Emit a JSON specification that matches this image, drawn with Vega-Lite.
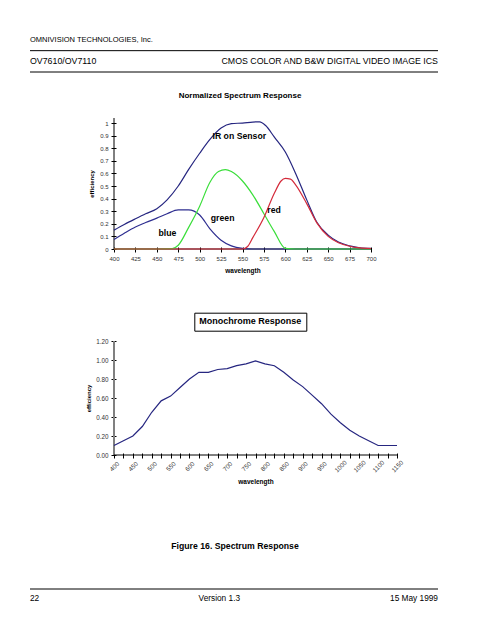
{
  "$schema": "https://vega.github.io/schema/vega-lite/v6.json",
  "background": "white",
  "padding": {"left": 29, "top": 36, "right": 20, "bottom": 20},
  "spacing": 0,
  "bounds": "flush",
  "config": {
    "font": "Liberation Sans",
    "view": {"stroke": null},
    "axis": {"labelFont": "Liberation Sans", "titleFont": "Liberation Sans", "grid": false},
    "title": {"font": "Liberation Sans"},
    "text": {"font": "Liberation Sans"},
    "legend": {"labelFont": "Liberation Sans"}
  },
  "resolve": {"scale": {"color": "independent"}, "legend": {"color": "independent"}},
  "vconcat": [
    {
      "width": 408,
      "height": 32,
      "data": {"values": [
        {"row": "company", "side": "left", "kind": "text", "label": "OMNIVISION TECHNOLOGIES, Inc.", "size": "small"},
        {"row": "line1", "kind": "line"},
        {"row": "product", "side": "left", "kind": "text", "label": "OV7610/OV7110", "size": "big"},
        {"row": "product", "side": "right", "kind": "text", "label": "CMOS COLOR AND B&W DIGITAL VIDEO IMAGE ICS", "size": "big"},
        {"row": "line2", "kind": "line"}
      ]},
      "encoding": {
        "y": {"field": "row", "type": "nominal", "scale": {"type": "point", "domain": ["company", "line1", "product", "line2"], "padding": 0}, "axis": null}
      },
      "layer": [
        {"transform": [{"filter": "datum.kind == 'line'"}], "mark": {"type": "rule", "color": "black", "strokeWidth": 1}},
        {"transform": [{"filter": "datum.side == 'left' && datum.size == 'small'"}],
         "mark": {"type": "text", "align": "left", "baseline": "middle", "fontSize": 7.5, "color": "black"},
         "encoding": {"x": {"field": "side", "type": "nominal", "scale": {"type": "point", "domain": ["left", "right"], "padding": 0}, "axis": null}, "text": {"field": "label"}}},
        {"transform": [{"filter": "datum.side == 'left' && datum.size == 'big'"}],
         "mark": {"type": "text", "align": "left", "baseline": "middle", "fontSize": 8.8, "color": "black"},
         "encoding": {"x": {"field": "side", "type": "nominal", "scale": {"type": "point", "domain": ["left", "right"], "padding": 0}, "axis": null}, "text": {"field": "label"}}},
        {"transform": [{"filter": "datum.side == 'right'"}],
         "mark": {"type": "text", "align": "right", "baseline": "middle", "fontSize": 8.8, "color": "black"},
         "encoding": {"x": {"field": "side", "type": "nominal", "scale": {"type": "point", "domain": ["left", "right"], "padding": 0}, "axis": null}, "text": {"field": "label"}}}
      ]
    },
    {"width": 408, "height": 46, "data": {"values": []}, "mark": "point"},
    {
      "width": 408,
      "height": 131,
      "title": {"text": "Normalized Spectrum Response", "fontSize": 8, "fontWeight": "bold", "anchor": "middle", "frame": "group", "dx": 6, "offset": 18, "color": "black"},
      "layer": [
        {
          "data": {"values": [{"a": 1}]},
          "mark": {"type": "rule", "color": "black", "strokeWidth": 1},
          "encoding": {
            "x": {"datum": 400, "type": "quantitative", "title": "wavelength",
                  "scale": {"domain": [400, 700], "range": [84, 341], "zero": false, "nice": false},
                  "axis": {"values": [400, 425, 450, 475, 500, 525, 550, 575, 600, 625, 650, 675, 700], "format": "d", "domain": false, "offset": -2, "tickSize": 5, "tickColor": "black", "labelFontSize": 6, "labelColor": "#333333", "labelPadding": 3, "labelFlush": false, "labelOverlap": false, "titleFontSize": 6.5, "titleFontWeight": "bold", "titleColor": "black", "titlePadding": 6}},
            "y": {"datum": 0, "type": "quantitative", "title": "efficiency",
                  "scale": {"domain": [0, 1.04], "nice": false, "zero": false},
                  "axis": {"values": [0, 0.1, 0.2, 0.3, 0.4, 0.5, 0.6, 0.7, 0.8, 0.9, 1], "format": "~g", "domain": false, "offset": -86, "tickSize": 5, "tickColor": "black", "labelFontSize": 6, "labelColor": "#333333", "labelPadding": 3, "labelOverlap": false, "titleFontSize": 6, "titleFontWeight": "bold", "titleColor": "black", "titlePadding": 5}},
            "y2": {"datum": 1.04}
          }
        },
        {
          "data": {"values": [{"a": 1}]},
          "mark": {"type": "rule", "color": "black", "strokeWidth": 1},
          "encoding": {
            "x": {"datum": 400, "type": "quantitative", "title": "wavelength",
                  "scale": {"domain": [400, 700], "range": [84, 341], "zero": false, "nice": false},
                  "axis": {"values": [400, 425, 450, 475, 500, 525, 550, 575, 600, 625, 650, 675, 700], "format": "d", "domain": false, "offset": -2, "tickSize": 5, "tickColor": "black", "labelFontSize": 6, "labelColor": "#333333", "labelPadding": 3, "labelFlush": false, "labelOverlap": false, "titleFontSize": 6.5, "titleFontWeight": "bold", "titleColor": "black", "titlePadding": 6}},
            "x2": {"datum": 700},
            "y": {"datum": 0, "type": "quantitative", "title": "efficiency",
                  "scale": {"domain": [0, 1.04], "nice": false, "zero": false},
                  "axis": {"values": [0, 0.1, 0.2, 0.3, 0.4, 0.5, 0.6, 0.7, 0.8, 0.9, 1], "format": "~g", "domain": false, "offset": -86, "tickSize": 5, "tickColor": "black", "labelFontSize": 6, "labelColor": "#333333", "labelPadding": 3, "labelOverlap": false, "titleFontSize": 6, "titleFontWeight": "bold", "titleColor": "black", "titlePadding": 5}}
          }
        },
        {
          "data": {"values": [
            {"series": "IR on Sensor", "wl": 400, "eff": 0.15},
            {"series": "IR on Sensor", "wl": 412, "eff": 0.195},
            {"series": "IR on Sensor", "wl": 425, "eff": 0.24},
            {"series": "IR on Sensor", "wl": 437, "eff": 0.28},
            {"series": "IR on Sensor", "wl": 450, "eff": 0.32},
            {"series": "IR on Sensor", "wl": 462, "eff": 0.39},
            {"series": "IR on Sensor", "wl": 475, "eff": 0.5},
            {"series": "IR on Sensor", "wl": 487, "eff": 0.63},
            {"series": "IR on Sensor", "wl": 500, "eff": 0.76},
            {"series": "IR on Sensor", "wl": 512, "eff": 0.87},
            {"series": "IR on Sensor", "wl": 525, "eff": 0.96},
            {"series": "IR on Sensor", "wl": 537, "eff": 0.995},
            {"series": "IR on Sensor", "wl": 550, "eff": 1.0},
            {"series": "IR on Sensor", "wl": 562, "eff": 1.008},
            {"series": "IR on Sensor", "wl": 570, "eff": 1.01},
            {"series": "IR on Sensor", "wl": 577, "eff": 0.98},
            {"series": "IR on Sensor", "wl": 587, "eff": 0.89},
            {"series": "IR on Sensor", "wl": 600, "eff": 0.77},
            {"series": "IR on Sensor", "wl": 612, "eff": 0.6},
            {"series": "IR on Sensor", "wl": 625, "eff": 0.39},
            {"series": "IR on Sensor", "wl": 637, "eff": 0.21},
            {"series": "IR on Sensor", "wl": 650, "eff": 0.11},
            {"series": "IR on Sensor", "wl": 662, "eff": 0.055},
            {"series": "IR on Sensor", "wl": 675, "eff": 0.025},
            {"series": "IR on Sensor", "wl": 687, "eff": 0.01},
            {"series": "IR on Sensor", "wl": 700, "eff": 0.005},
            {"series": "blue", "wl": 400, "eff": 0.075},
            {"series": "blue", "wl": 412, "eff": 0.125},
            {"series": "blue", "wl": 425, "eff": 0.175},
            {"series": "blue", "wl": 437, "eff": 0.21},
            {"series": "blue", "wl": 450, "eff": 0.245},
            {"series": "blue", "wl": 462, "eff": 0.28},
            {"series": "blue", "wl": 475, "eff": 0.31},
            {"series": "blue", "wl": 487, "eff": 0.31},
            {"series": "blue", "wl": 500, "eff": 0.27},
            {"series": "blue", "wl": 512, "eff": 0.16},
            {"series": "blue", "wl": 525, "eff": 0.07},
            {"series": "blue", "wl": 537, "eff": 0.025},
            {"series": "blue", "wl": 550, "eff": 0.005},
            {"series": "blue", "wl": 562, "eff": 0},
            {"series": "blue", "wl": 600, "eff": 0},
            {"series": "blue", "wl": 650, "eff": 0},
            {"series": "blue", "wl": 700, "eff": 0},
            {"series": "green", "wl": 400, "eff": 0},
            {"series": "green", "wl": 450, "eff": 0},
            {"series": "green", "wl": 468, "eff": 0.003},
            {"series": "green", "wl": 475, "eff": 0.03},
            {"series": "green", "wl": 487, "eff": 0.17},
            {"series": "green", "wl": 500, "eff": 0.34},
            {"series": "green", "wl": 512, "eff": 0.53},
            {"series": "green", "wl": 522, "eff": 0.615},
            {"series": "green", "wl": 530, "eff": 0.63},
            {"series": "green", "wl": 537, "eff": 0.615},
            {"series": "green", "wl": 550, "eff": 0.54},
            {"series": "green", "wl": 562, "eff": 0.43},
            {"series": "green", "wl": 575, "eff": 0.28},
            {"series": "green", "wl": 587, "eff": 0.14},
            {"series": "green", "wl": 600, "eff": 0.005},
            {"series": "green", "wl": 612, "eff": 0},
            {"series": "green", "wl": 650, "eff": 0},
            {"series": "green", "wl": 700, "eff": 0},
            {"series": "red", "wl": 400, "eff": 0},
            {"series": "red", "wl": 500, "eff": 0},
            {"series": "red", "wl": 550, "eff": 0},
            {"series": "red", "wl": 556, "eff": 0.02},
            {"series": "red", "wl": 562, "eff": 0.09},
            {"series": "red", "wl": 575, "eff": 0.25},
            {"series": "red", "wl": 587, "eff": 0.44},
            {"series": "red", "wl": 595, "eff": 0.54},
            {"series": "red", "wl": 600, "eff": 0.56},
            {"series": "red", "wl": 606, "eff": 0.555},
            {"series": "red", "wl": 612, "eff": 0.51},
            {"series": "red", "wl": 625, "eff": 0.36},
            {"series": "red", "wl": 637, "eff": 0.205},
            {"series": "red", "wl": 650, "eff": 0.1},
            {"series": "red", "wl": 662, "eff": 0.05},
            {"series": "red", "wl": 675, "eff": 0.022},
            {"series": "red", "wl": 687, "eff": 0.009},
            {"series": "red", "wl": 700, "eff": 0.004}
          ]},
          "mark": {"type": "line", "strokeWidth": 1.2, "interpolate": "monotone"},
          "encoding": {
            "x": {"field": "wl", "type": "quantitative", "title": "wavelength",
                  "scale": {"domain": [400, 700], "range": [84, 341], "zero": false, "nice": false},
                  "axis": {"values": [400, 425, 450, 475, 500, 525, 550, 575, 600, 625, 650, 675, 700], "format": "d", "domain": false, "offset": -2, "tickSize": 5, "tickColor": "black", "labelFontSize": 6, "labelColor": "#333333", "labelPadding": 3, "labelFlush": false, "labelOverlap": false, "titleFontSize": 6.5, "titleFontWeight": "bold", "titleColor": "black", "titlePadding": 6}},
            "y": {"field": "eff", "type": "quantitative", "title": "efficiency",
                  "scale": {"domain": [0, 1.04], "nice": false, "zero": false},
                  "axis": {"values": [0, 0.1, 0.2, 0.3, 0.4, 0.5, 0.6, 0.7, 0.8, 0.9, 1], "format": "~g", "domain": false, "offset": -86, "tickSize": 5, "tickColor": "black", "labelFontSize": 6, "labelColor": "#333333", "labelPadding": 3, "labelOverlap": false, "titleFontSize": 6, "titleFontWeight": "bold", "titleColor": "black", "titlePadding": 5}},
            "color": {"field": "series", "type": "nominal", "scale": {"domain": ["IR on Sensor", "blue", "green", "red"], "range": ["#262680", "#2e2e90", "#3ade3a", "#d42a3a"]}, "legend": null}
          }
        },
        {
          "data": {"values": [
            {"label": "IR on Sensor", "wl": 515, "eff": 0.897},
            {"label": "green", "wl": 513, "eff": 0.244},
            {"label": "red", "wl": 579, "eff": 0.31},
            {"label": "blue", "wl": 452, "eff": 0.13}
          ]},
          "mark": {"type": "text", "align": "left", "baseline": "middle", "fontSize": 8.7, "fontWeight": "bold", "color": "black"},
          "encoding": {
            "x": {"field": "wl", "type": "quantitative", "title": "wavelength",
                  "scale": {"domain": [400, 700], "range": [84, 341], "zero": false, "nice": false},
                  "axis": {"values": [400, 425, 450, 475, 500, 525, 550, 575, 600, 625, 650, 675, 700], "format": "d", "domain": false, "offset": -2, "tickSize": 5, "tickColor": "black", "labelFontSize": 6, "labelColor": "#333333", "labelPadding": 3, "labelFlush": false, "labelOverlap": false, "titleFontSize": 6.5, "titleFontWeight": "bold", "titleColor": "black", "titlePadding": 6}},
            "y": {"field": "eff", "type": "quantitative", "title": "efficiency",
                  "scale": {"domain": [0, 1.04], "nice": false, "zero": false},
                  "axis": {"values": [0, 0.1, 0.2, 0.3, 0.4, 0.5, 0.6, 0.7, 0.8, 0.9, 1], "format": "~g", "domain": false, "offset": -86, "tickSize": 5, "tickColor": "black", "labelFontSize": 6, "labelColor": "#333333", "labelPadding": 3, "labelOverlap": false, "titleFontSize": 6, "titleFontWeight": "bold", "titleColor": "black", "titlePadding": 5}},
            "text": {"field": "label"}
          }
        }
      ]
    },
    {"width": 408, "height": 92, "data": {"values": []}, "mark": "point"},
    {
      "width": 408,
      "height": 114,
      "layer": [
        {
          "data": {"values": [{"a": 1}]},
          "mark": {"type": "rule", "color": "#808080", "strokeWidth": 2},
          "encoding": {
            "x": {"datum": 400, "type": "quantitative", "title": "wavelength",
                  "scale": {"domain": [400, 1150], "range": [84, 367], "zero": false, "nice": false},
                  "axis": {"values": [400, 425, 450, 475, 500, 525, 550, 575, 600, 625, 650, 675, 700, 725, 750, 775, 800, 825, 850, 875, 900, 925, 950, 975, 1000, 1025, 1050, 1075, 1100, 1125, 1150], "format": "d", "labelExpr": "datum.value % 50 === 0 ? datum.label : ''", "labelAngle": -45, "labelAlign": "center", "labelBaseline": "middle", "domain": false, "offset": -2, "tickSize": 5, "tickColor": "black", "labelFontSize": 6.3, "labelColor": "#333333", "labelPadding": 8, "labelFlush": false, "labelOverlap": false, "titleFontSize": 6.5, "titleFontWeight": "bold", "titleColor": "black", "titlePadding": 5}},
            "y": {"datum": 0, "type": "quantitative", "title": "efficiency",
                  "scale": {"domain": [0, 1.2], "nice": false, "zero": false},
                  "axis": {"values": [0, 0.2, 0.4, 0.6, 0.8, 1.0, 1.2], "format": ".2f", "domain": false, "offset": -86, "tickSize": 5, "tickColor": "black", "labelFontSize": 6.3, "labelColor": "#333333", "labelPadding": 3, "labelOverlap": false, "titleFontSize": 6, "titleFontWeight": "bold", "titleColor": "black", "titlePadding": 4}},
            "y2": {"datum": 1.2}
          }
        },
        {
          "data": {"values": [{"a": 1}]},
          "mark": {"type": "rule", "color": "black", "strokeWidth": 1},
          "encoding": {
            "x": {"datum": 400, "type": "quantitative", "title": "wavelength",
                  "scale": {"domain": [400, 1150], "range": [84, 367], "zero": false, "nice": false},
                  "axis": {"values": [400, 425, 450, 475, 500, 525, 550, 575, 600, 625, 650, 675, 700, 725, 750, 775, 800, 825, 850, 875, 900, 925, 950, 975, 1000, 1025, 1050, 1075, 1100, 1125, 1150], "format": "d", "labelExpr": "datum.value % 50 === 0 ? datum.label : ''", "labelAngle": -45, "labelAlign": "center", "labelBaseline": "middle", "domain": false, "offset": -2, "tickSize": 5, "tickColor": "black", "labelFontSize": 6.3, "labelColor": "#333333", "labelPadding": 8, "labelFlush": false, "labelOverlap": false, "titleFontSize": 6.5, "titleFontWeight": "bold", "titleColor": "black", "titlePadding": 5}},
            "x2": {"datum": 1150},
            "y": {"datum": 0, "type": "quantitative", "title": "efficiency",
                  "scale": {"domain": [0, 1.2], "nice": false, "zero": false},
                  "axis": {"values": [0, 0.2, 0.4, 0.6, 0.8, 1.0, 1.2], "format": ".2f", "domain": false, "offset": -86, "tickSize": 5, "tickColor": "black", "labelFontSize": 6.3, "labelColor": "#333333", "labelPadding": 3, "labelOverlap": false, "titleFontSize": 6, "titleFontWeight": "bold", "titleColor": "black", "titlePadding": 4}}
          }
        },
        {
          "data": {"values": [
            {"series": "Monochrome Response", "wl": 400, "eff": 0.10},
            {"series": "Monochrome Response", "wl": 425, "eff": 0.15},
            {"series": "Monochrome Response", "wl": 450, "eff": 0.20},
            {"series": "Monochrome Response", "wl": 475, "eff": 0.30},
            {"series": "Monochrome Response", "wl": 500, "eff": 0.45},
            {"series": "Monochrome Response", "wl": 525, "eff": 0.57},
            {"series": "Monochrome Response", "wl": 550, "eff": 0.62},
            {"series": "Monochrome Response", "wl": 575, "eff": 0.71},
            {"series": "Monochrome Response", "wl": 600, "eff": 0.80},
            {"series": "Monochrome Response", "wl": 625, "eff": 0.87},
            {"series": "Monochrome Response", "wl": 650, "eff": 0.87},
            {"series": "Monochrome Response", "wl": 675, "eff": 0.90},
            {"series": "Monochrome Response", "wl": 700, "eff": 0.91},
            {"series": "Monochrome Response", "wl": 725, "eff": 0.94},
            {"series": "Monochrome Response", "wl": 750, "eff": 0.96},
            {"series": "Monochrome Response", "wl": 775, "eff": 0.99},
            {"series": "Monochrome Response", "wl": 800, "eff": 0.96},
            {"series": "Monochrome Response", "wl": 825, "eff": 0.94},
            {"series": "Monochrome Response", "wl": 850, "eff": 0.87},
            {"series": "Monochrome Response", "wl": 875, "eff": 0.79},
            {"series": "Monochrome Response", "wl": 900, "eff": 0.72},
            {"series": "Monochrome Response", "wl": 925, "eff": 0.63},
            {"series": "Monochrome Response", "wl": 950, "eff": 0.54},
            {"series": "Monochrome Response", "wl": 975, "eff": 0.43},
            {"series": "Monochrome Response", "wl": 1000, "eff": 0.34},
            {"series": "Monochrome Response", "wl": 1025, "eff": 0.26},
            {"series": "Monochrome Response", "wl": 1050, "eff": 0.20},
            {"series": "Monochrome Response", "wl": 1075, "eff": 0.15},
            {"series": "Monochrome Response", "wl": 1100, "eff": 0.10},
            {"series": "Monochrome Response", "wl": 1125, "eff": 0.10},
            {"series": "Monochrome Response", "wl": 1150, "eff": 0.10}
          ]},
          "mark": {"type": "line", "strokeWidth": 1.2},
          "encoding": {
            "x": {"field": "wl", "type": "quantitative", "title": "wavelength",
                  "scale": {"domain": [400, 1150], "range": [84, 367], "zero": false, "nice": false},
                  "axis": {"values": [400, 425, 450, 475, 500, 525, 550, 575, 600, 625, 650, 675, 700, 725, 750, 775, 800, 825, 850, 875, 900, 925, 950, 975, 1000, 1025, 1050, 1075, 1100, 1125, 1150], "format": "d", "labelExpr": "datum.value % 50 === 0 ? datum.label : ''", "labelAngle": -45, "labelAlign": "center", "labelBaseline": "middle", "domain": false, "offset": -2, "tickSize": 5, "tickColor": "black", "labelFontSize": 6.3, "labelColor": "#333333", "labelPadding": 8, "labelFlush": false, "labelOverlap": false, "titleFontSize": 6.5, "titleFontWeight": "bold", "titleColor": "black", "titlePadding": 5}},
            "y": {"field": "eff", "type": "quantitative", "title": "efficiency",
                  "scale": {"domain": [0, 1.2], "nice": false, "zero": false},
                  "axis": {"values": [0, 0.2, 0.4, 0.6, 0.8, 1.0, 1.2], "format": ".2f", "domain": false, "offset": -86, "tickSize": 5, "tickColor": "black", "labelFontSize": 6.3, "labelColor": "#333333", "labelPadding": 3, "labelOverlap": false, "titleFontSize": 6, "titleFontWeight": "bold", "titleColor": "black", "titlePadding": 4}},
            "color": {"field": "series", "type": "nominal", "scale": {"range": ["#262680"]},
                      "legend": {"title": null, "orient": "none", "legendX": 164.3, "legendY": -28.3, "strokeColor": "black", "padding": 4, "symbolSize": 0, "symbolStrokeWidth": 0, "symbolOpacity": 0, "labelOffset": -8, "labelFontSize": 9, "labelFontWeight": "bold", "labelColor": "black", "labelLimit": 0}}
          }
        }
      ]
    },
    {"width": 408, "height": 134, "data": {"values": []}, "mark": "point"},
    {
      "width": 408,
      "height": 9.7,
      "title": {"text": "Figure 16. Spectrum Response", "fontSize": 8.7, "fontWeight": "bold", "anchor": "middle", "frame": "group", "dx": 1, "offset": 38, "color": "black"},
      "data": {"values": [
        {"row": "line", "kind": "line"},
        {"row": "text", "side": "left", "kind": "text", "label": "22"},
        {"row": "text", "side": "center", "kind": "text", "label": "Version 1.3"},
        {"row": "text", "side": "right", "kind": "text", "label": "15 May 1999"}
      ]},
      "encoding": {
        "y": {"field": "row", "type": "nominal", "scale": {"type": "point", "domain": ["line", "text"], "padding": 0}, "axis": null}
      },
      "layer": [
        {"transform": [{"filter": "datum.kind == 'line'"}], "mark": {"type": "rule", "color": "black", "strokeWidth": 1}},
        {"transform": [{"filter": "datum.side == 'left'"}],
         "mark": {"type": "text", "align": "left", "baseline": "middle", "fontSize": 8.3, "color": "black"},
         "encoding": {"x": {"field": "side", "type": "nominal", "scale": {"type": "point", "domain": ["left", "center", "right"], "padding": 0}, "axis": null}, "text": {"field": "label"}}},
        {"transform": [{"filter": "datum.side == 'center'"}],
         "mark": {"type": "text", "align": "center", "baseline": "middle", "fontSize": 8.3, "color": "black", "dx": -14.7},
         "encoding": {"x": {"field": "side", "type": "nominal", "scale": {"type": "point", "domain": ["left", "center", "right"], "padding": 0}, "axis": null}, "text": {"field": "label"}}},
        {"transform": [{"filter": "datum.side == 'right'"}],
         "mark": {"type": "text", "align": "right", "baseline": "middle", "fontSize": 8.3, "color": "black"},
         "encoding": {"x": {"field": "side", "type": "nominal", "scale": {"type": "point", "domain": ["left", "center", "right"], "padding": 0}, "axis": null}, "text": {"field": "label"}}}
      ]
    }
  ]
}
